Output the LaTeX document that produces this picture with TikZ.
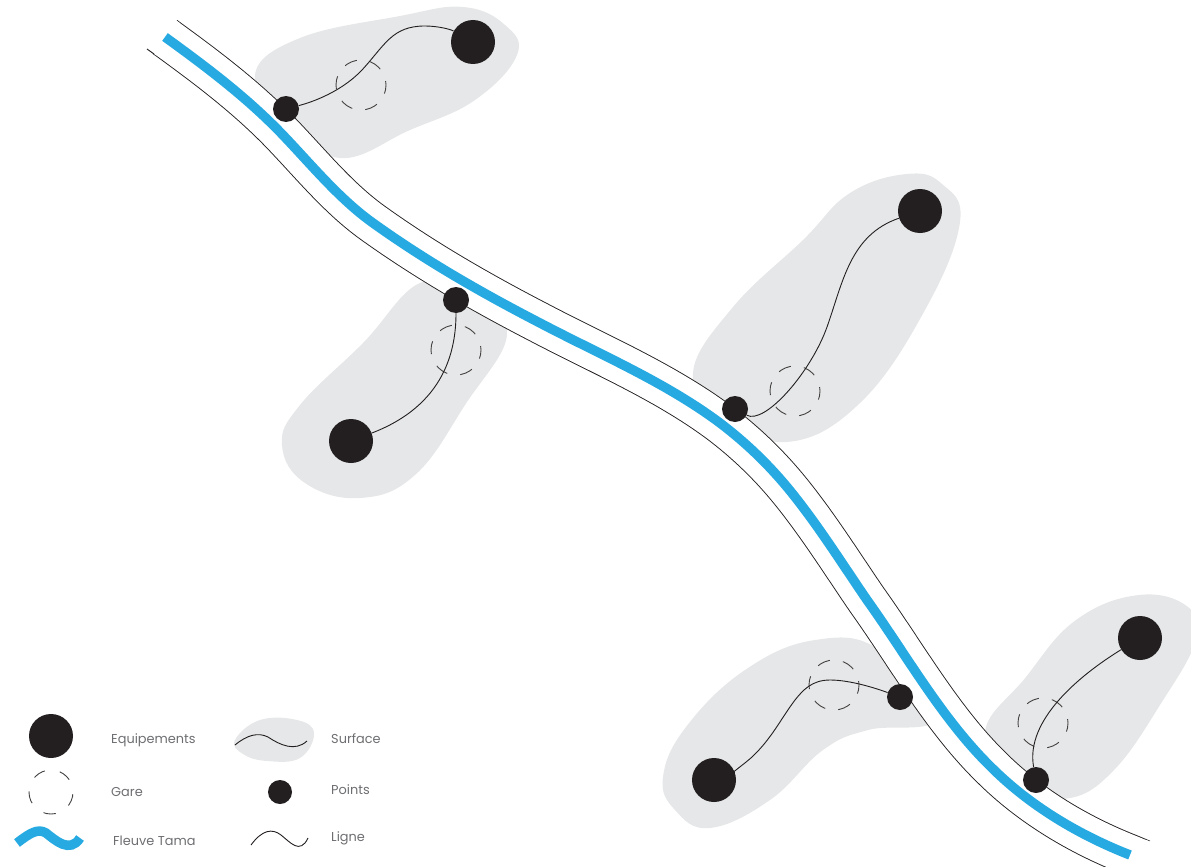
\documentclass[tikz,border=0pt]{standalone}
\usepackage{fontspec}
\setmainfont{Poppins}
\usetikzlibrary{backgrounds}
\definecolor{ink}{HTML}{231F20}
\definecolor{riverblue}{HTML}{27AAE1}
\definecolor{surf}{HTML}{E6E7E8}
\definecolor{labelgrey}{HTML}{6D6E71}
\tikzset{
  equip/.style={circle,fill=ink,inner sep=0pt,minimum size=44pt},
  pointnode/.style={circle,fill=ink,inner sep=0pt,minimum size=26pt},
  garering/.style={circle,draw=ink!85,line width=0.9pt,dash pattern=on 13pt off 13.18pt,dash phase=9pt,inner sep=0pt,minimum size=50pt},
  surface/.style={fill=surf,draw=none},
  ligne/.style={draw=ink,line width=0.9pt},
  rivertrace/.style={draw=riverblue,line width=9.5pt},
  riverbanks/.style={draw=ink,line width=0.9pt,double=white,double distance=40pt},
  bankend/.style={draw=white,line width=40pt},
  blob/.style={smooth cycle,tension=0.7},
  lab/.style={anchor=base west,text=labelgrey,font=\fontsize{12.9}{15}\selectfont,inner sep=0pt},
}
\def\rivercourse{(165,37) .. controls (205,66) and (245,96) .. (280,132)
  .. controls (310,163) and (338,198) .. (373,223)
  .. controls (426,261) and (482,293) .. (540,323)
  .. controls (601,355) and (665,382) .. (720,423)
  .. controls (745,442) and (767,463) .. (787,487)
  .. controls (816,522) and (841,562) .. (867,600)
  .. controls (907,656) and (942,719) .. (991,767)
  .. controls (1030,806) and (1079,835) .. (1130,855)}
\begin{document}
\begin{tikzpicture}[x=1pt,y=-1pt]
\useasboundingbox (0,0) rectangle (1191,867);
% nodes
\node[equip] (e1) at (473,42) {};
\node[equip] (e2) at (351,441) {};
\node[equip] (e3) at (920,211) {};
\node[equip] (e4) at (714,780) {};
\node[equip] (e5) at (1140,638) {};
\node[pointnode] (p1) at (286,109) {};
\node[pointnode] (p2) at (456,300) {};
\node[pointnode] (p3) at (735,409) {};
\node[pointnode] (p4) at (900,697) {};
\node[pointnode] (p5) at (1036,780) {};
\node[equip] (le) at (51,736) {};
\node[pointnode,minimum size=24pt] (lp) at (280,792) {};
\node[lab] (t1) at (111,743) {Equipements};
\node[lab] (t2) at (111,796) {Gare};
\node[lab] (t3) at (113,845) {Fleuve Tama};
\node[lab] (t4) at (331,743) {Surface};
\node[lab] (t5) at (331,794) {Points};
\node[lab] (t6) at (331,841) {Ligne};
\begin{pgfonlayer}{background}
% surfaces
\fill[surface] plot[blob] coordinates {(255,75)(300,38)(400,16)(463,7)(505,25)(517,55)(475,100)(410,130)(340,158)(290,120)};
\fill[surface] plot[blob] coordinates {(420,283)(363,343)(300,405)(282,445)(305,483)(360,498)(415,475)(465,405)(507,333)(465,300)};
\fill[surface] plot[blob] coordinates {(693,373)(733,307)(803,240)(850,193)(907,174)(942,184)(960,222)(925,310)(860,403)(787,442)(725,415)};
\fill[surface] plot[blob] coordinates {(663,777)(686,727)(745,670)(815,640)(880,650)(935,718)(868,730)(823,750)(770,800)(710,828)(675,810)};
\fill[surface] plot[blob] coordinates {(985,735)(1026,677)(1076,620)(1139,595)(1188,607)(1196,640)(1160,705)(1114,770)(1070,798)(1030,785)};
\fill[surface] plot[blob] coordinates {(235,740)(260,720)(297,720)(314,733)(300,758)(267,761)(243,754)};
% river banks and band
\draw[riverbanks] \rivercourse -- (1142,860);
\draw[bankend] (168,39.2) -- (152,27.5);
\draw[bankend] (1138,858.2) -- (1156,865.5);
\draw[ligne] (154,54) -- (147,49);
% gare rings
\node[garering] (g1) at (361,85) {};
\node[garering] (g2) at (456,350) {};
\node[garering] (g3) at (795,391) {};
\node[garering] (g4) at (834,685) {};
\node[garering] (g5) at (1043,723) {};
\node[garering,minimum size=44pt,dash pattern=on 12.4pt off 15.2pt,dash phase=14.5pt] (lg) at (51,792) {};
% river
\draw[rivertrace] \rivercourse;
\draw[rivertrace] (17,843) .. controls (30,833) and (38,828) .. (46,833) .. controls (55,840) and (70,854) .. (80,838);
% lines
\draw[ligne] (p1) .. controls (320,100) and (345,88) .. (362,70) .. controls (385,45) and (392,26) .. (425,26) .. controls (437,26) and (450,29) .. (e1);
\draw[ligne] (p2) .. controls (456,350) and (445,405) .. (e2);
\draw[ligne] (p3) .. controls (765,425) and (811,372) .. (827,327) .. controls (843,282) and (850,235) .. (e3);
\draw[ligne] (p4) .. controls (875,688) and (850,680) .. (830,680) .. controls (812,680) and (803,690) .. (795,700) .. controls (780,720) and (772,738) .. (752,757) .. controls (742,766) and (728,775) .. (e4);
\draw[ligne] (p5) .. controls (1025,720) and (1080,675) .. (e5);
\draw[ligne] (235,745) .. controls (247,735) and (258,732) .. (268,737) .. controls (280,745) and (295,752) .. (307,741);
\draw[ligne] (251,845) .. controls (262,830) and (272,828) .. (281,835) .. controls (290,842) and (300,855) .. (308,838);
\end{pgfonlayer}
\end{tikzpicture}
\end{document}
